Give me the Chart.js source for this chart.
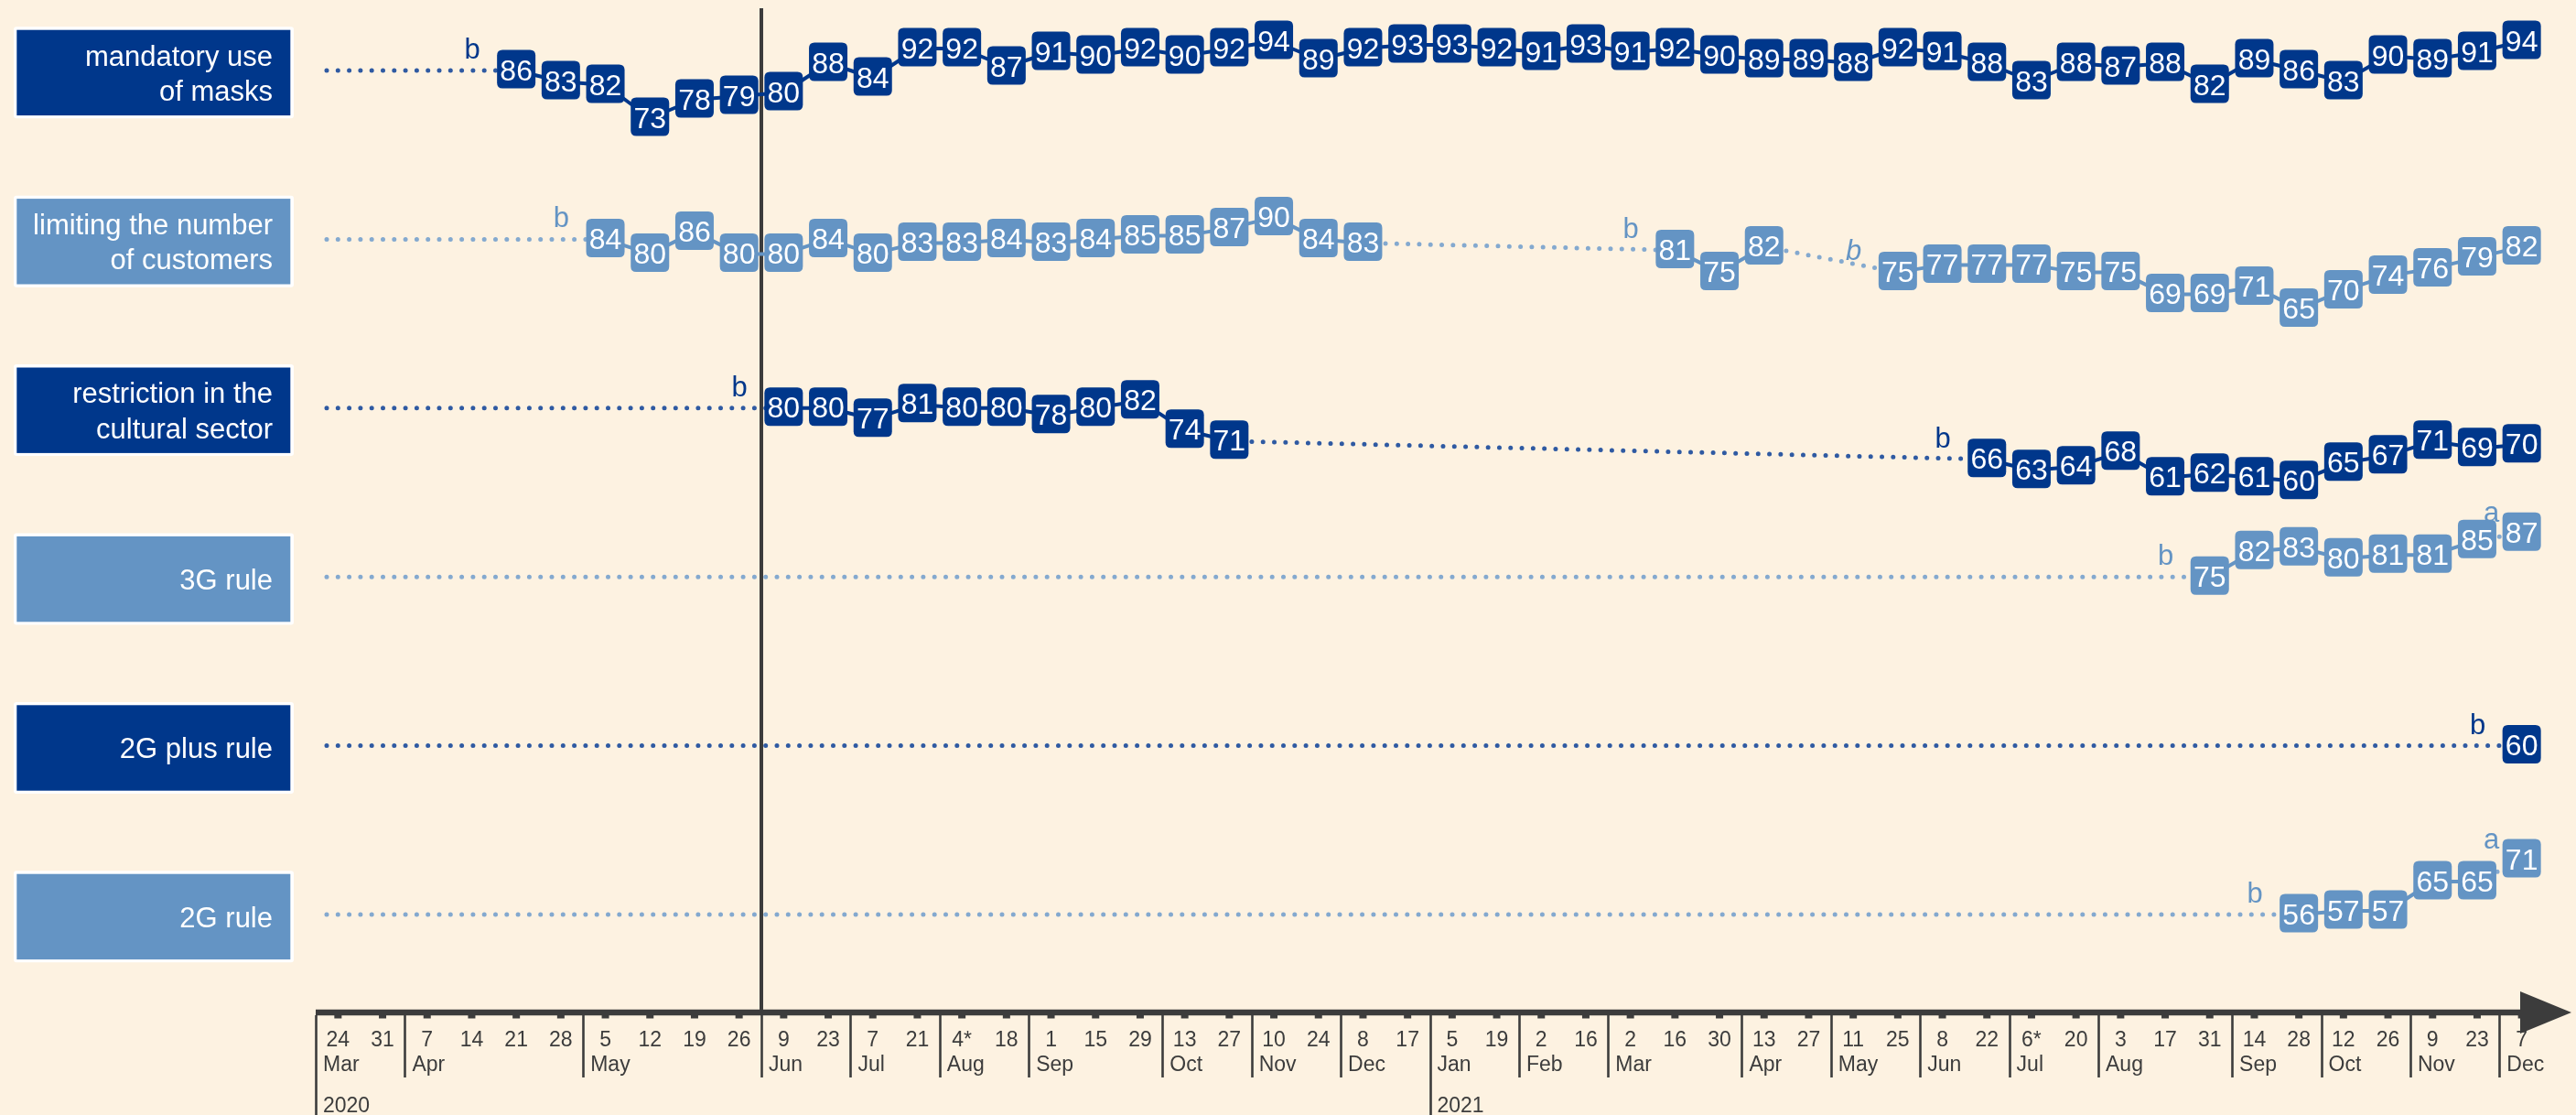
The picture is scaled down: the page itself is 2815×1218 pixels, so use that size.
<!DOCTYPE html>
<html>
<head>
<meta charset="utf-8">
<script src="https://cdn.jsdelivr.net/npm/chart.js@4.4.0/dist/chart.umd.min.js"></script>
<style>
html,body{margin:0;padding:0;background:#fdf2e1;overflow:hidden}
#wrap{width:2815px;height:1218px;position:relative}
</style>
</head>
<body>
<div id="wrap"><canvas id="c" width="2815" height="1218"></canvas></div>
<script>
// ---------- DATA ----------
const tickDays = ['24','31','7','14','21','28','5','12','19','26','9','23','7','21','4*','18','1','15','29','13','27','10','24','8','17',
                  '5','19','2','16','2','16','30','13','27','11','25','8','22','6*','20','3','17','31','14','28','12','26','9','23','7'];
const monthLabels    = ['Mar','Apr','May','Jun','Jul','Aug','Sep','Oct','Nov','Dec','Jan','Feb','Mar','Apr','May','Jun','Jul','Aug','Sep','Oct','Nov','Dec'];
const monthFirstTick = [0,2,6,10,12,14,16,19,21,23,25,27,29,32,34,36,38,40,43,45,47,49];
const yearLabels     = ['2020','2021'];
const yearFirstTick  = [0,25];
const phaseBreakAfter = 9; // vertical divider between 26 May and 9 Jun 2020

const rowNames = [
  ['mandatory use','of masks'],
  ['limiting the number','of customers'],
  ['restriction in the','cultural sector'],
  ['3G rule'],
  ['2G plus rule'],
  ['2G rule']
];

const masksValues = [null,null,null,null,86,83,82,73,78,79,80,88,84,92,92,87,91,90,92,90,92,94,89,92,93,93,92,91,93,91,92,90,89,89,88,92,91,88,83,88,87,88,82,89,86,83,90,89,91,94];
const customersValues = [null,null,null,null,null,null,84,80,86,80,80,84,80,83,83,84,83,84,85,85,87,90,84,83,null,null,null,null,null,null,81,75,82,null,null,75,77,77,77,75,75,69,69,71,65,70,74,76,79,82];
const culturalValues = [null,null,null,null,null,null,null,null,null,null,80,80,77,81,80,80,78,80,82,74,71,null,null,null,null,null,null,null,null,null,null,null,null,null,null,null,null,66,63,64,68,61,62,61,60,65,67,71,69,70];
const rule3GValues = [null,null,null,null,null,null,null,null,null,null,null,null,null,null,null,null,null,null,null,null,null,null,null,null,null,null,null,null,null,null,null,null,null,null,null,null,null,null,null,null,null,null,75,82,83,80,81,81,85,87];
const rule2GPlusValues = [null,null,null,null,null,null,null,null,null,null,null,null,null,null,null,null,null,null,null,null,null,null,null,null,null,null,null,null,null,null,null,null,null,null,null,null,null,null,null,null,null,null,null,null,null,null,null,null,null,60];
const rule2GValues = [null,null,null,null,null,null,null,null,null,null,null,null,null,null,null,null,null,null,null,null,null,null,null,null,null,null,null,null,null,null,null,null,null,null,null,null,null,null,null,null,null,null,null,null,56,57,57,65,65,71];

const masksNotes     = {4:'b'};
const customersNotes = {6:'b', 30:'b', 35:'b'};
const customersItalicNotes = {35:true};
const culturalNotes  = {10:'b', 37:'b'};
const rule3GNotes    = {42:'b', 49:'a'};
const rule2GPlusNotes= {49:'b'};
const rule2GNotes    = {44:'b', 49:'a'};

// ---------- STYLE / LAYOUT ----------
const W = 2815, H = 1218;
const BG = '#fdf2e1';
const DARK = '#00378b', DARK_DOT = '#2f5aa2';
const LIGHT = '#6494c4', LIGHT_DOT = '#84a9cf';
const AXIS_COLOR = '#3c3c3c';
const FONT = '"Liberation Sans", Arial, Helvetica, sans-serif';
const PLOT_LEFT = 345, PLOT_RIGHT = 2780, AXIS_Y = 1106;
const ROW_FIRST_Y = 77, ROW_STEP = 184.4, PX_PER_UNIT = 4;

const rowValues = [masksValues, customersValues, culturalValues, rule3GValues, rule2GPlusValues, rule2GValues];
const rowNotes  = [masksNotes, customersNotes, culturalNotes, rule3GNotes, rule2GPlusNotes, rule2GNotes];
const rowItalic = [{}, customersItalicNotes, {}, {}, {}, {}];
const rowDark   = [true, false, true, false, true, false];

const firstIdx = vals => vals.findIndex(v => v !== null);

// stacked per-row y axes
const scales = {
  x: {
    type: 'category', labels: tickDays, offset: true, display: true,
    grid: {display: false, drawTicks: false}, border: {display: false},
    ticks: {display: false},
    afterFit: s => { s.height = H - AXIS_Y; }
  }
};
const nRows = rowValues.length;
for (let i = nRows - 1; i >= 0; i--) {
  const c = ROW_FIRST_Y + i * ROW_STEP;
  const top = i === 0 ? 0 : c - ROW_STEP / 2;
  const bottom = i === nRows - 1 ? AXIS_Y : c + ROW_STEP / 2;
  const first = rowValues[i][firstIdx(rowValues[i])];
  scales['y' + i] = {
    type: 'linear', position: 'left', stack: 'rows', stackWeight: bottom - top,
    min: first - (bottom - c) / PX_PER_UNIT,
    max: first + (c - top) / PX_PER_UNIT,
    display: true,
    grid: {display: false, drawTicks: false}, border: {display: false},
    ticks: {display: false},
    afterFit: s => { s.width = 0; }
  };
}

function isDotted(ctx, i) {
  return ctx.p0.skip || ctx.p1.skip || !!rowNotes[i][ctx.p1DataIndex];
}

const datasets = rowValues.map((vals, i) => ({
  label: rowNames[i].join(' '),
  data: vals,
  yAxisID: 'y' + i,
  borderColor: rowDark[i] ? DARK : LIGHT,
  borderWidth: 4,
  borderCapStyle: 'round',
  borderJoinStyle: 'round',
  pointRadius: 0, pointHoverRadius: 0, pointHitRadius: 0,
  tension: 0,
  spanGaps: true,
  fill: false,
  segment: {
    borderDash: ctx => isDotted(ctx, i) ? [0, 12.3] : undefined,
    borderColor: ctx => isDotted(ctx, i) ? (rowDark[i] ? DARK_DOT : LIGHT_DOT) : undefined,
    borderWidth: ctx => isDotted(ctx, i) ? 5 : undefined
  }
}));

function roundRect(ctx, x, y, w, h, r) {
  ctx.beginPath();
  ctx.moveTo(x + r, y);
  ctx.lineTo(x + w - r, y); ctx.quadraticCurveTo(x + w, y, x + w, y + r);
  ctx.lineTo(x + w, y + h - r); ctx.quadraticCurveTo(x + w, y + h, x + w - r, y + h);
  ctx.lineTo(x + r, y + h); ctx.quadraticCurveTo(x, y + h, x, y + h - r);
  ctx.lineTo(x, y + r); ctx.quadraticCurveTo(x, y, x + r, y);
  ctx.closePath();
}

const deco = {
  id: 'deco',
  beforeDraw(chart) {
    const ctx = chart.ctx;
    ctx.save();
    ctx.fillStyle = BG;
    ctx.fillRect(0, 0, W, H);
    ctx.restore();
  },
  beforeDatasetsDraw(chart) {
    const ctx = chart.ctx, area = chart.chartArea, xs = chart.scales.x;
    ctx.save();
    rowValues.forEach((vals, i) => {
      const ys = chart.scales['y' + i];
      const f = firstIdx(vals);
      const yFirst = ys.getPixelForValue(vals[f]);
      const cy = yFirst + 2.5;
      const col = rowDark[i] ? DARK : LIGHT;
      ctx.fillStyle = '#ffffff';
      roundRect(ctx, 15, cy - 50.2, 306, 100, 3); ctx.fill();
      ctx.fillStyle = col;
      ctx.fillRect(18.3, cy - 46.8, 299, 93.4);
      ctx.fillStyle = '#ffffff';
      ctx.font = '31px ' + FONT;
      ctx.textAlign = 'right';
      ctx.textBaseline = 'alphabetic';
      const lines = rowNames[i];
      if (lines.length === 2) {
        ctx.fillText(lines[0], 298, cy - 8);
        ctx.fillText(lines[1], 298, cy + 30.5);
      } else {
        ctx.fillText(lines[0], 298, cy + 11);
      }
      ctx.beginPath();
      ctx.strokeStyle = rowDark[i] ? DARK_DOT : LIGHT_DOT;
      ctx.lineWidth = 5;
      ctx.lineCap = 'round';
      ctx.setLineDash([0, 12.3]);
      ctx.moveTo(area.left + 12, yFirst);
      ctx.lineTo(xs.getPixelForValue(f), yFirst);
      ctx.stroke();
      ctx.setLineDash([]);
    });
    const xd = (xs.getPixelForValue(phaseBreakAfter) + xs.getPixelForValue(phaseBreakAfter + 1)) / 2;
    ctx.strokeStyle = AXIS_COLOR;
    ctx.lineWidth = 4;
    ctx.lineCap = 'butt';
    ctx.beginPath();
    ctx.moveTo(xd, 9);
    ctx.lineTo(xd, area.bottom);
    ctx.stroke();
    ctx.restore();
  },
  afterDatasetsDraw(chart) {
    const ctx = chart.ctx;
    ctx.save();
    rowValues.forEach((vals, i) => {
      const meta = chart.getDatasetMeta(i);
      const col = rowDark[i] ? DARK : LIGHT;
      vals.forEach((v, k) => {
        if (v === null) return;
        const el = meta.data[k];
        const x = el.x, y = el.y;
        const note = rowNotes[i][k];
        if (note) {
          ctx.fillStyle = col;
          ctx.textAlign = 'right';
          ctx.textBaseline = 'alphabetic';
          ctx.font = (rowItalic[i][k] ? 'italic ' : '') + '31px ' + FONT;
          if (note === 'a') ctx.fillText(note, x - 24.5, y - 12);
          else ctx.fillText(note, x - 39.5, y - 13);
        }
        ctx.fillStyle = col;
        roundRect(ctx, x - 21, y - 22.5, 42, 42, 6);
        ctx.fill();
        ctx.fillStyle = '#ffffff';
        ctx.font = '32px ' + FONT;
        ctx.textAlign = 'center';
        ctx.textBaseline = 'alphabetic';
        ctx.fillText(String(v), x, y + 10.5);
      });
    });
    ctx.restore();
  },
  afterDraw(chart) {
    const ctx = chart.ctx, area = chart.chartArea, xs = chart.scales.x;
    const step = xs.getPixelForValue(1) - xs.getPixelForValue(0);
    ctx.save();
    ctx.fillStyle = AXIS_COLOR;
    ctx.strokeStyle = AXIS_COLOR;
    tickDays.forEach((d, k) => {
      const x = xs.getPixelForValue(k);
      ctx.fillRect(x - 4, AXIS_Y + 2, 8, 4.5);
    });
    ctx.lineWidth = 6.5;
    ctx.lineCap = 'butt';
    ctx.beginPath();
    ctx.moveTo(area.left, AXIS_Y);
    ctx.lineTo(2760, AXIS_Y);
    ctx.stroke();
    ctx.beginPath();
    ctx.moveTo(2754, AXIS_Y - 23);
    ctx.lineTo(2810, AXIS_Y);
    ctx.lineTo(2754, AXIS_Y + 23);
    ctx.closePath();
    ctx.fill();
    ctx.lineWidth = 2.6;
    monthFirstTick.forEach(k => {
      const x = Math.round(xs.getPixelForValue(k) - step / 2) + 0.5;
      const isYear = yearFirstTick.includes(k);
      ctx.beginPath();
      ctx.moveTo(x, AXIS_Y + 3);
      ctx.lineTo(x, isYear ? H : AXIS_Y + 71);
      ctx.stroke();
    });
    ctx.font = '23px ' + FONT;
    ctx.textBaseline = 'alphabetic';
    ctx.textAlign = 'center';
    tickDays.forEach((d, k) => {
      ctx.fillText(d, xs.getPixelForValue(k), AXIS_Y + 37);
    });
    ctx.textAlign = 'left';
    monthLabels.forEach((m, j) => {
      const x = xs.getPixelForValue(monthFirstTick[j]) - step / 2 + 8;
      ctx.fillText(m, x, AXIS_Y + 64);
    });
    yearLabels.forEach((yl, j) => {
      const x = xs.getPixelForValue(yearFirstTick[j]) - step / 2 + 8;
      ctx.fillText(yl, x, AXIS_Y + 109);
    });
    ctx.restore();
  }
};

new Chart(document.getElementById('c'), {
  type: 'line',
  data: {labels: tickDays, datasets},
  options: {
    responsive: false,
    devicePixelRatio: 1,
    animation: false,
    events: [],
    layout: {padding: {left: PLOT_LEFT, right: W - PLOT_RIGHT, top: 0, bottom: 0}},
    scales,
    plugins: {legend: {display: false}, tooltip: {enabled: false}, title: {display: false}}
  },
  plugins: [deco]
});
</script>
</body>
</html>
